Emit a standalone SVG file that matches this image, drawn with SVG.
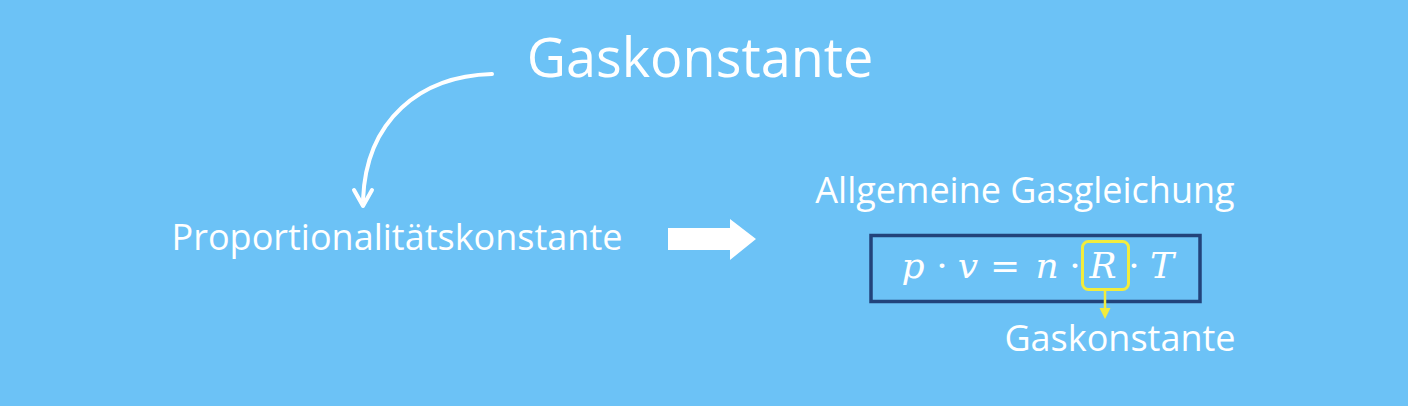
<svg xmlns="http://www.w3.org/2000/svg" width="1408" height="406" viewBox="0 0 1408 406">
<style>
.t{font-family:"Open Sans","Noto Sans","Liberation Sans",sans-serif;fill:#fff;text-anchor:middle}
.m{font-family:"DejaVu Serif","Liberation Serif",serif;font-style:italic;fill:#fff;font-size:36px;text-anchor:middle}
.op{font-family:"DejaVu Serif","Liberation Serif",serif;fill:#fff;font-size:36px;text-anchor:middle}
</style>
<defs>
<marker id="wh" markerWidth="12" markerHeight="12" refX="6" refY="10" orient="auto" markerUnits="userSpaceOnUse" viewBox="0 0 12 12">
<path d="M1,3 L6,10 L11,3" fill="none" stroke="#fff" stroke-width="3" stroke-linecap="round" stroke-linejoin="round"/>
</marker>
</defs>
<rect width="1408" height="406" fill="#6CC2F6"/>
<g id="title"><text class="t" x="700" y="77" font-size="54">Gaskonstante</text></g>
<g id="prop"><text class="t" x="397" y="250" font-size="36">Proportionalitätskonstante</text></g>
<g id="allg"><text class="t" x="1025" y="203" font-size="36">Allgemeine Gasgleichung</text></g>
<g id="formula">
<rect x="871" y="235.5" width="329" height="66" fill="none" stroke="#22437B" stroke-width="3.5"/>
<text class="m" x="913" y="278">p</text>
<text class="op" x="942" y="278">·</text>
<text class="m" x="968" y="278">v</text>
<text class="op" x="1005" y="278">=</text>
<text class="m" x="1047" y="278">n</text>
<text class="op" x="1075" y="278">·</text>
<rect x="1082.5" y="241.5" width="46" height="48" rx="6" fill="none" stroke="#F2EC3C" stroke-width="3"/>
<text class="m" x="1103" y="278">R</text>
<text class="op" x="1134" y="278">·</text>
<text class="m" x="1162" y="278">T</text>
</g>
<g id="gas2"><text class="t" x="1120" y="351" font-size="36">Gaskonstante</text></g>
<g id="connectors">
<path d="M492,74 C420,76 366,120 363,200" fill="none" stroke="#fff" stroke-width="4" stroke-linecap="round"/>
<path d="M354,190 L363,206 L372,190" fill="none" stroke="#fff" stroke-width="4" stroke-linecap="round" stroke-linejoin="round"/>
<polygon points="668,228 730,228 730,219 756,239 730,260 730,250 668,250" fill="#fff"/>
<line x1="1105" y1="290" x2="1105" y2="310" stroke="#F2EC3C" stroke-width="2.5"/>
<polygon points="1099.5,308 1110.5,308 1105,319" fill="#F2EC3C"/>
</g>
</svg>
